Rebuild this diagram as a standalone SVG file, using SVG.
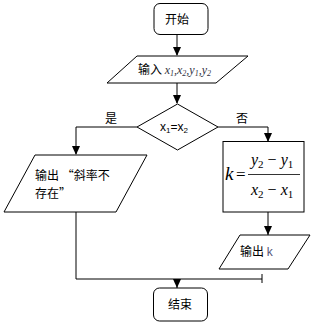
<svg xmlns="http://www.w3.org/2000/svg" width="311" height="323" viewBox="0 0 311 323">
<defs>
<style>
.s{fill:#fff;stroke:#000;stroke-width:1}
.c{fill:none;stroke:#000;stroke-width:1}
.t{font-family:"Noto Sans CJK SC","Liberation Sans",sans-serif;font-size:12px;fill:#000}
.m{font-family:"Liberation Serif",serif;font-style:italic}
</style>
</defs>
<rect width="311" height="323" fill="#fff"/>
<g id="connectors">
<path class="c" d="M177,35 V55"/>
<path class="c" d="M177,83 V103"/>
<path class="c" d="M137,127 H76 V154"/>
<path class="c" d="M218,127 H268 V141"/>
<path class="c" d="M268,212 V235"/>
<path class="c" d="M76,212 V279 H262 M262,274 V283"/>
<path class="c" d="M177,279 V288"/>
<g fill="#000">
<path d="M173,47 L181,47 L177,56 z"/>
<path d="M173,95 L181,95 L177,104 z"/>
<path d="M72,146 L80,146 L76,155 z"/>
<path d="M264,133 L272,133 L268,142 z"/>
<path d="M264,226 L272,226 L268,235 z"/>
<path d="M173,279 L181,279 L177,288 z"/>
</g>
<text class="t" x="111" y="123" text-anchor="middle">是</text>
<text class="t" x="242" y="123" text-anchor="middle">否</text>
</g>
<g id="start">
<rect class="s" x="154" y="3.5" width="54" height="31" rx="6"/>
<text class="t" x="177" y="23.5" text-anchor="middle">开始</text>
</g>
<g id="input">
<polygon class="s" points="137,56 248,56 216,83 107,83"/>
<text class="t" x="138" y="74">输入 <tspan class="m" fill="#334">x<tspan font-size="8" dy="2">1</tspan><tspan dy="-2">,x</tspan><tspan font-size="8" dy="2">2</tspan><tspan dy="-2">,y</tspan><tspan font-size="8" dy="2">1</tspan><tspan dy="-2">,y</tspan><tspan font-size="8" dy="2">2</tspan></tspan></text>
</g>
<g id="decision">
<polygon class="s" points="177.5,104 218,127 177.5,150 137,127"/>
<text x="160" y="131" font-family="Liberation Sans,sans-serif" font-size="12" fill="#000">x<tspan font-size="8" dy="2">1</tspan><tspan dy="-2">=x</tspan><tspan font-size="8" dy="2">2</tspan></text>
</g>
<g id="output-none">
<polygon class="s" points="35,155 147,155 116,212 4,212"/>
<text class="t" font-size="12.5"><tspan x="35" y="179.5">输出 “斜率不</tspan><tspan x="35" y="197.5">存在”</tspan></text>
</g>
<g id="compute">
<rect class="s" x="223" y="141.5" width="81" height="70.5"/>
<g font-family="Liberation Serif,serif" fill="#000">
<text x="225" y="180" font-size="19" font-style="italic">k</text>
<text x="236" y="180" font-size="17">=</text>
<line x1="248" y1="174.5" x2="300" y2="174.5" stroke="#000" stroke-width="0.8"/>
<text x="251" y="165" font-size="16"><tspan font-style="italic">y</tspan><tspan font-size="11" dy="3">2</tspan><tspan dy="-3"> − </tspan><tspan font-style="italic">y</tspan><tspan font-size="11" dy="3">1</tspan></text>
<text x="251" y="195" font-size="16"><tspan font-style="italic">x</tspan><tspan font-size="11" dy="3">2</tspan><tspan dy="-3"> − </tspan><tspan font-style="italic">x</tspan><tspan font-size="11" dy="3">1</tspan></text>
</g>
</g>
<g id="output-k">
<polygon class="s" points="240,235 310,235 288,269 219,269"/>
<text class="t" x="240" y="256">输出 <tspan font-family="Liberation Sans,sans-serif" fill="#557">k</tspan></text>
</g>
<g id="end">
<rect class="s" x="153.5" y="288" width="54" height="33" rx="6"/>
<text class="t" x="180" y="309" text-anchor="middle">结束</text>
</g>
</svg>
